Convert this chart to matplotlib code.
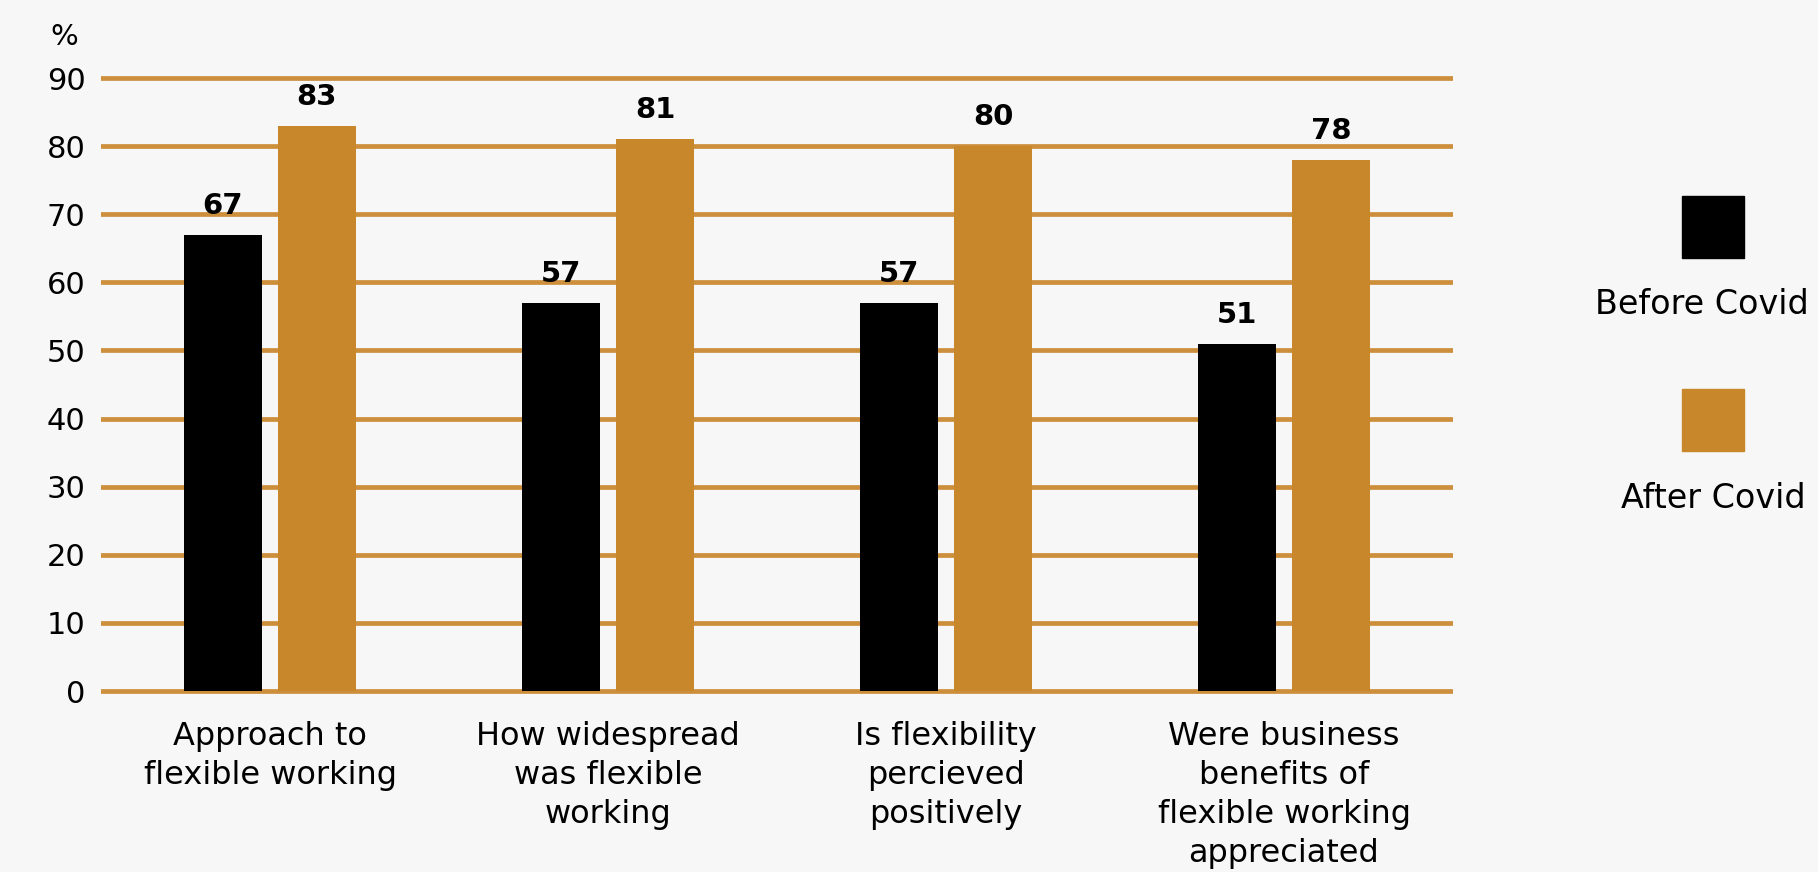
import numpy as np
import matplotlib
matplotlib.use('Agg')
import matplotlib.pyplot as plt
from matplotlib.patches import Rectangle

categories = ['Approach to\nflexible working',
              'How widespread\nwas flexible\nworking',
              'Is flexibility\npercieved\npositively',
              'Were business\nbenefits of\nflexible working\nappreciated']
before = [67, 57, 57, 51]
after = [83, 81, 80, 78]
series_names = ['Before Covid', 'After Covid']
yticks = [0, 10, 20, 30, 40, 50, 60, 70, 80, 90]

BG = '#f7f7f7'
BLACK = '#000000'
ORANGE = '#c8872a'
GRID = '#cd8f3c'

plt.rcParams['font.family'] = ['DejaVu Sans']

W, H = 1818, 872
fig = plt.figure(figsize=(W/100, H/100), dpi=100, facecolor=BG)
# axes box in pixels
x0, x1 = 101, 1453
y_zero, y_90 = 691, 78
ppu = (y_zero - y_90) / 90.0
ylo, yhi = -1, 91
bot = y_zero + ppu*(0-ylo)
top = y_zero - ppu*yhi
ax = fig.add_axes([x0/W, (H-bot)/H, (x1-x0)/W, (bot-top)/H])
ax.set_facecolor(BG)

x = np.arange(len(categories))
w = 0.231
off = 0.139
b1 = ax.bar(x-off, before, w, color=BLACK, zorder=3)
b2 = ax.bar(x+off, after, w, color=ORANGE, zorder=3)

for bars in (b1, b2):
    for r in bars:
        ax.text(r.get_x()+r.get_width()/2, r.get_height()+2.2, '%d' % r.get_height(),
                ha='center', va='bottom', fontsize=21, fontweight='bold', color='black')

ax.set_xlim(-0.5, 3.5)
ax.set_ylim(ylo, yhi)
ax.set_yticks(yticks)
ax.set_yticklabels([str(v) for v in yticks], fontsize=22)
ax.set_xticks(x)
ax.set_xticklabels(categories, fontsize=23, linespacing=1.33)
ax.tick_params(axis='y', length=0, pad=11)
ax.tick_params(axis='x', length=0, pad=17)
ax.yaxis.grid(True, color=GRID, linewidth=3.4, zorder=1)
ax.set_axisbelow(True)
for s in ax.spines.values():
    s.set_visible(False)

fig.text(64/W, 1-37/H, '%', ha='center', va='center', fontsize=21)

# legend: square above label
leg_cx = 1713
text_cx = [1702, 1713]
for i, (name, col) in enumerate(zip(series_names, [BLACK, ORANGE])):
    sq_top = 196 + i*193
    fig.patches.append(Rectangle(((leg_cx-31)/W, 1-(sq_top+62)/H), 62/W, 62/H,
                                 transform=fig.transFigure, color=col))
    fig.text(text_cx[i]/W, 1-(sq_top+109)/H, name, ha='center', va='center', fontsize=24)

fig.savefig('out.png', dpi=100, facecolor=BG)
